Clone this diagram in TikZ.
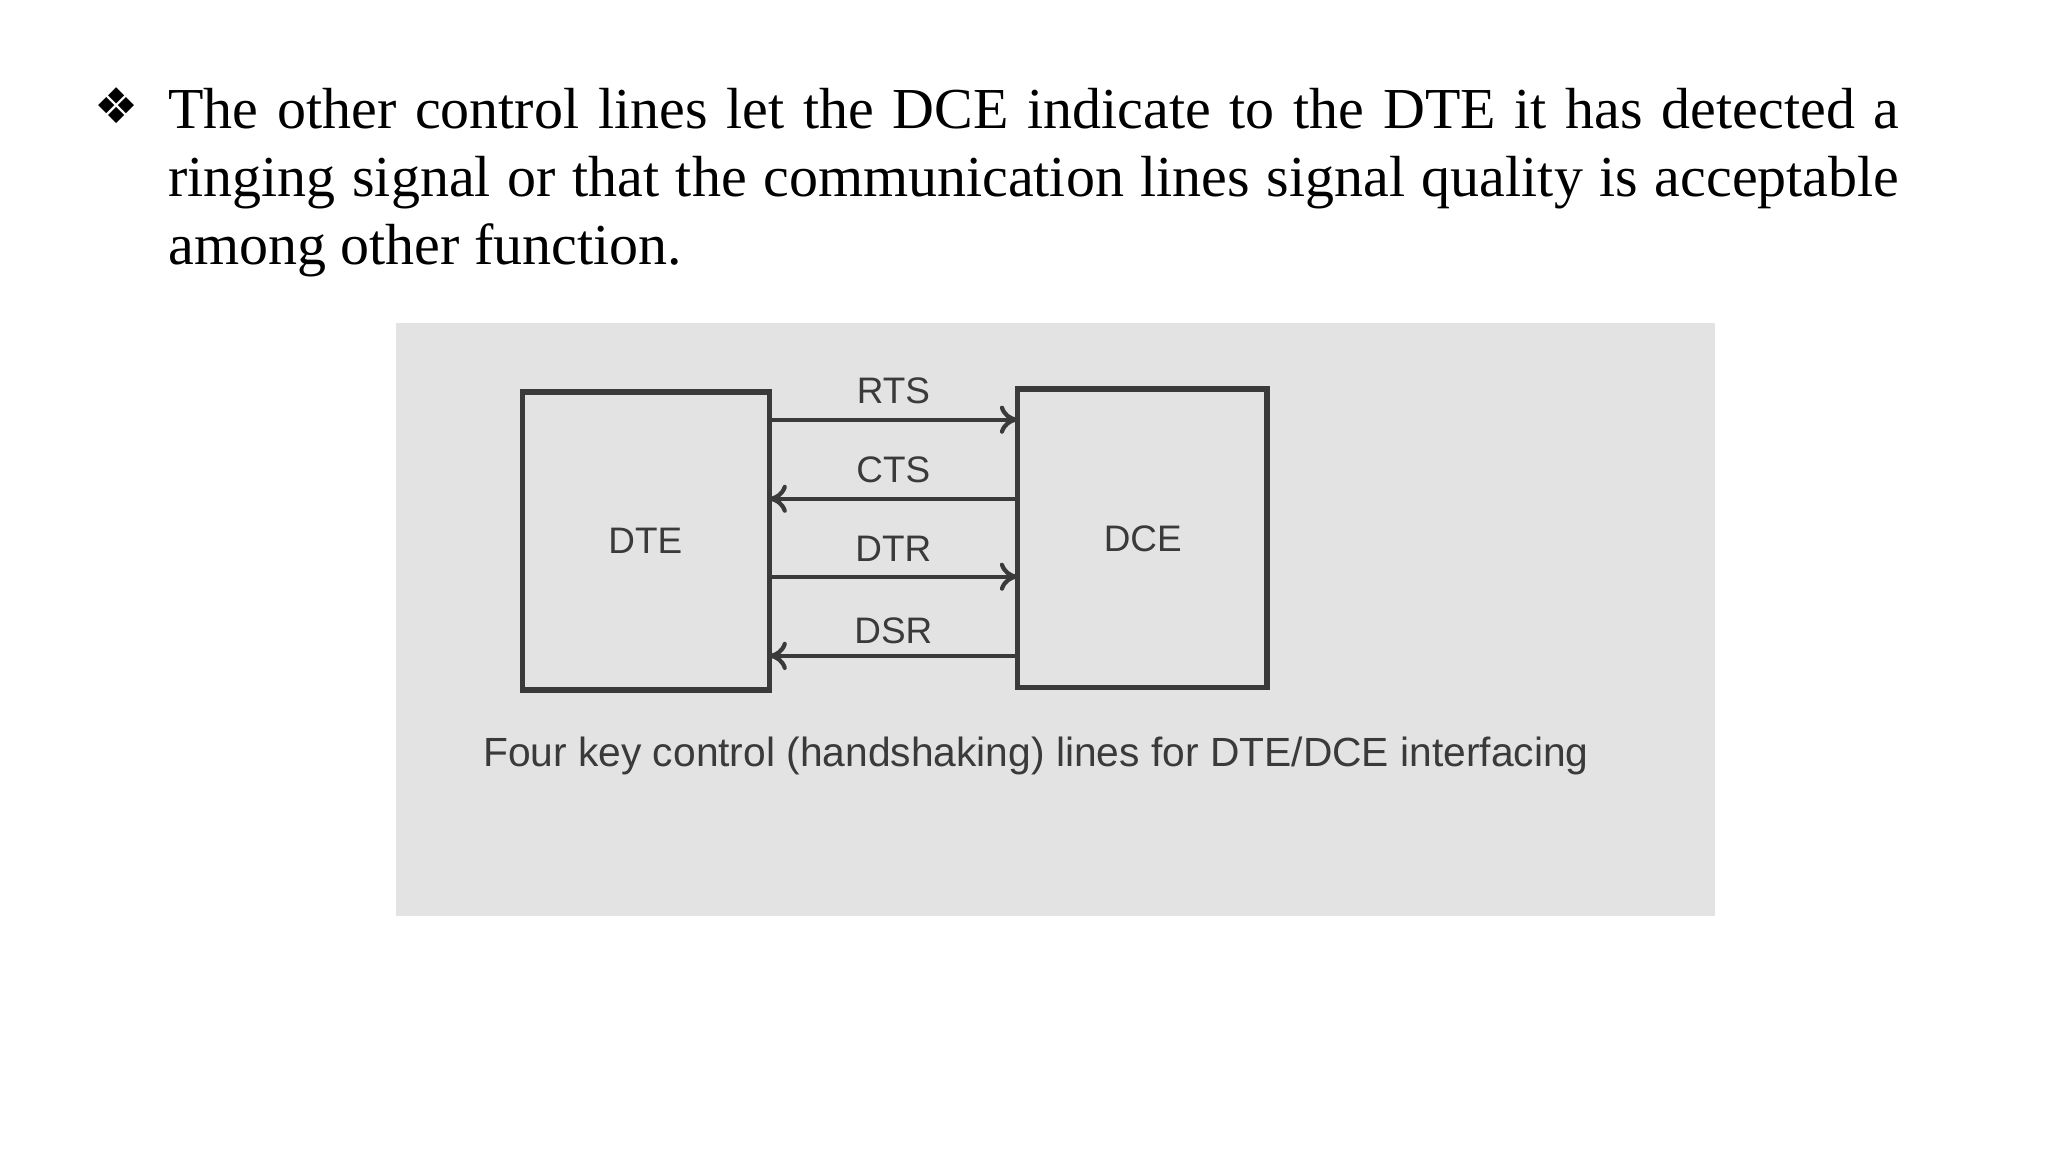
\documentclass[tikz,border=0pt]{standalone}
\usepackage{fontspec}
\usetikzlibrary{arrows.meta}
\setmainfont{Liberation Serif}
\newfontfamily\dejavu{DejaVu Sans}
\newfontfamily\lsans{Liberation Sans}
\definecolor{panel}{HTML}{E3E3E3}
\definecolor{ink}{HTML}{3A3A3A}
\tikzset{
  blk/.style={draw=ink, line width=1.6pt},
  sig/.style={draw=ink, line width=1.2pt, -{To[length=5pt,width=8pt]}},
  lbl/.style={text=ink, font=\lsans\fontsize{10.5}{12}\selectfont},
}
\begin{document}
\begin{tikzpicture}[x=0.013196cm, y=-0.013196cm]
\useasboundingbox (0,0) rectangle (1552,873);
\fill[white] (0,0) rectangle (1552,873);
\node[anchor=center] (bul) at (88,80) {\dejavu\fontsize{14}{14}\selectfont ❖};
\node[anchor=north west, inner sep=0pt] (para) at (127,66) {\parbox{492.6pt}{\fontsize{16.5}{19.4}\selectfont The other control lines let the DCE indicate to the DTE it has detected a\linebreak ringing signal or that the communication lines signal quality is acceptable\linebreak among other function.}};
\fill[panel] (300,245) rectangle (1300,694);
\draw[blk] (396,297) rectangle (583,523);
\draw[blk] (771,295) rectangle (960,521);
\coordinate (dte) at (489,410);
\coordinate (dce) at (866,408);
\node[lbl] (dtel) at (dte) {DTE};
\node[lbl] (dcel) at (dce) {DCE};
\coordinate (l1) at (583,318); \coordinate (r1) at (771,318);
\coordinate (l2) at (583,378); \coordinate (r2) at (771,378);
\coordinate (l3) at (583,437); \coordinate (r3) at (771,437);
\coordinate (l4) at (583,497); \coordinate (r4) at (771,497);
\draw[sig] (l1) -- (r1);
\draw[sig] (r2) -- (l2);
\draw[sig] (l3) -- (r3);
\draw[sig] (r4) -- (l4);
\node[lbl] at (677,296) {RTS};
\node[lbl] at (677,356) {CTS};
\node[lbl] at (677,416) {DTR};
\node[lbl] at (677,478) {DSR};
\node[lbl, font=\lsans\fontsize{11.6}{13}\selectfont] (cap) at (785,573) {Four key control (handshaking) lines for DTE/DCE interfacing};
\end{tikzpicture}
\end{document}
